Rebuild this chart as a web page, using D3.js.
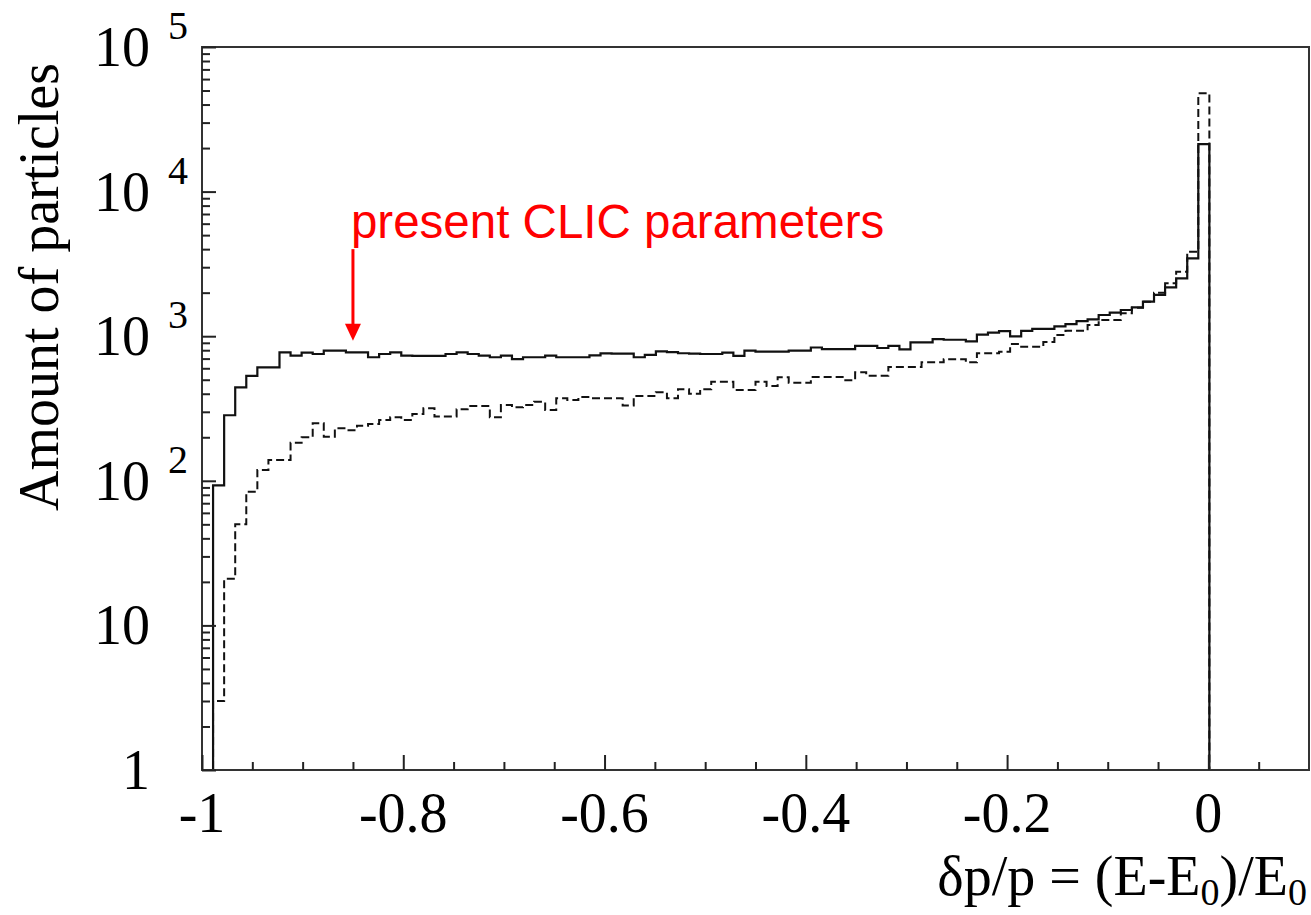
<!DOCTYPE html>
<html>
<head>
<meta charset="utf-8">
<script src="https://cdn.jsdelivr.net/npm/d3@7.9.0/dist/d3.min.js"></script>
<style>
  html, body { margin: 0; padding: 0; background: #fff; }
  svg { display: block; }
  .serif { font-family: "Liberation Serif", "Times New Roman", serif; fill: #000; }
</style>
</head>
<body>
<svg id="chart" width="1311" height="915"></svg>
<script>
// ----- Histogram: 100 bins from -1 to 0.1 (bin width 0.011) -----
const binMin = -1.0;
const binMax = 0.1;
const nBins = 100;

// present CLIC parameters (solid)
const solidCounts = [
  0, 93, 284, 443, 531, 609, 609, 774, 733, 769,
  753, 794, 794, 774, 774, 715, 753, 774, 733, 730,
  730, 730, 753, 774, 753, 733, 715, 733, 695, 715,
  715, 733, 715, 715, 715, 738, 760, 757, 757, 715,
  743, 786, 775, 762, 757, 753, 753, 769, 730, 794,
  782, 782, 782, 794, 794, 835, 813, 813, 813, 858,
  858, 829, 858, 811, 905, 905, 953, 945, 945, 920,
  1025, 1060, 1085, 998, 1090, 1125, 1125, 1170, 1212, 1273,
  1309, 1402, 1455, 1518, 1585, 1733, 1929, 2178, 2514, 3456,
  21330, 0, 0, 0, 0, 0, 0, 0, 0, 0
];

// second configuration (dashed)
const dashedCounts = [
  0, 3, 21, 50, 84, 119, 139, 139, 183, 200,
  250, 202, 231, 224, 240, 247, 263, 275, 263, 290,
  317, 278, 278, 312, 329, 329, 275, 334, 322, 334,
  352, 309, 372, 362, 380, 372, 372, 372, 332, 386,
  386, 410, 372, 430, 400, 430, 484, 484, 425, 425,
  484, 453, 520, 477, 477, 522, 522, 522, 495, 563,
  532, 532, 612, 612, 612, 660, 660, 692, 692, 660,
  762, 762, 782, 883, 845, 845, 910, 1019, 1092, 1092,
  1195, 1295, 1295, 1440, 1575, 1733, 2000, 2323, 2793, 3840,
  47860, 0, 0, 0, 0, 0, 0, 0, 0, 0
];

const xTickLabels = [-1, -0.8, -0.6, -0.4, -0.2, 0];
const yDecades = [1, 10, 100, 1000, 10000, 100000];
const yDecadeExp = ["", "", "2", "3", "4", "5"];

// annotation
const noteText = "present CLIC parameters";
const noteX = -0.85;
const noteTip = 930;
const noteTail = 4000;

// ----- Layout -----
const frame = { left: 202, right: 1309, top: 47, bottom: 770 };
const svg = d3.select("#chart");

const x = d3.scaleLinear().domain([binMin, binMax]).range([frame.left, frame.right]);
const y = d3.scaleLog().domain([1, 1e5]).range([frame.bottom, frame.top]);

const binW = (binMax - binMin) / nBins;

// Step outline as ROOT draws it (empty bins sit on the bottom)
function histPoints(counts) {
  const pts = counts.map((c, i) => ({ x: binMin + i * binW, v: Math.max(c, 1) }));
  pts.push({ x: binMin + nBins * binW, v: Math.max(counts[counts.length - 1], 1) });
  return pts;
}

const line = d3.line()
  .x(d => x(d.x))
  .y(d => y(d.v))
  .curve(d3.curveStepAfter);

svg.append("path")
  .attr("d", line(histPoints(dashedCounts)))
  .attr("fill", "none")
  .attr("stroke", "#111")
  .attr("stroke-width", 2)
  .attr("stroke-dasharray", "8,4");

svg.append("path")
  .attr("d", line(histPoints(solidCounts)))
  .attr("fill", "none")
  .attr("stroke", "#111")
  .attr("stroke-width", 2.2);

// ----- Frame + ticks (inside, left and bottom only) -----
svg.append("rect")
  .attr("x", frame.left).attr("y", frame.top)
  .attr("width", frame.right - frame.left)
  .attr("height", frame.bottom - frame.top)
  .attr("fill", "none")
  .attr("stroke", "#333")
  .attr("stroke-width", 2);

const yMinor = y.ticks().filter(v => !yDecades.includes(v));
const xMinor = d3.range(-0.95, 0.1, 0.05).map(v => +v.toFixed(2))
  .filter(v => !xTickLabels.some(t => Math.abs(t - v) < 1e-9));

function tickGroup(axis, transform) {
  const g = svg.append("g").attr("transform", transform).call(axis);
  g.select(".domain").remove();
  g.selectAll("text").remove();
  g.selectAll("line").attr("stroke", "#222").attr("stroke-width", 2);
  return g;
}

tickGroup(d3.axisLeft(y).tickValues(yMinor).tickSize(-8), `translate(${frame.left},0)`);
tickGroup(d3.axisLeft(y).tickValues(yDecades).tickSize(-14), `translate(${frame.left},0)`);
tickGroup(d3.axisBottom(x).tickValues(xMinor).tickSize(-8), `translate(0,${frame.bottom})`);
tickGroup(d3.axisBottom(x).tickValues(xTickLabels).tickSize(-15), `translate(0,${frame.bottom})`);

// ----- Tick labels -----
svg.append("g").selectAll("text")
  .data(xTickLabels)
  .enter().append("text")
  .attr("class", "serif")
  .attr("x", d => x(d))
  .attr("y", 832)
  .attr("text-anchor", "middle")
  .attr("font-size", 56)
  .text(d => String(d));

const yLab = svg.append("g").selectAll("g")
  .data(yDecades)
  .enter().append("g");

yLab.append("text")
  .attr("class", "serif")
  .attr("x", 150)
  .attr("y", d => y(d) + 19)
  .attr("text-anchor", "end")
  .attr("font-size", 56)
  .text(d => d === 1 ? "1" : "10");

yLab.append("text")
  .attr("class", "serif")
  .attr("x", 168)
  .attr("y", d => y(d) - 8)
  .attr("font-size", 40)
  .text((d, i) => yDecadeExp[i]);

// ----- Axis titles -----
svg.append("text")
  .attr("class", "serif")
  .attr("transform", "translate(58,287) rotate(-90)")
  .attr("text-anchor", "middle")
  .attr("font-size", 56)
  .text("Amount of particles");

const xt = svg.append("text")
  .attr("class", "serif")
  .attr("x", 1307)
  .attr("y", 895)
  .attr("text-anchor", "end")
  .attr("font-size", 56);
xt.append("tspan").text("δp/p = (E-E");
xt.append("tspan").attr("font-size", 38).attr("dy", 10).text("0");
xt.append("tspan").attr("dy", -10).text(")/E");
xt.append("tspan").attr("font-size", 38).attr("dy", 10).text("0");

// ----- Annotation -----
svg.append("text")
  .attr("x", x(noteX) - 2)
  .attr("y", 238)
  .attr("font-family", "'Liberation Sans', Arial, sans-serif")
  .attr("font-size", 47.5)
  .attr("fill", "#ff0000")
  .text(noteText);

svg.append("line")
  .attr("x1", x(noteX)).attr("x2", x(noteX))
  .attr("y1", y(noteTail)).attr("y2", y(noteTip) - 14)
  .attr("stroke", "#ff0000")
  .attr("stroke-width", 3);

svg.append("path")
  .attr("d", d3.line()([
    [x(noteX) - 8, y(noteTip) - 17],
    [x(noteX) + 8, y(noteTip) - 17],
    [x(noteX), y(noteTip)]
  ]) + "Z")
  .attr("fill", "#ff0000");
</script>
</body>
</html>
